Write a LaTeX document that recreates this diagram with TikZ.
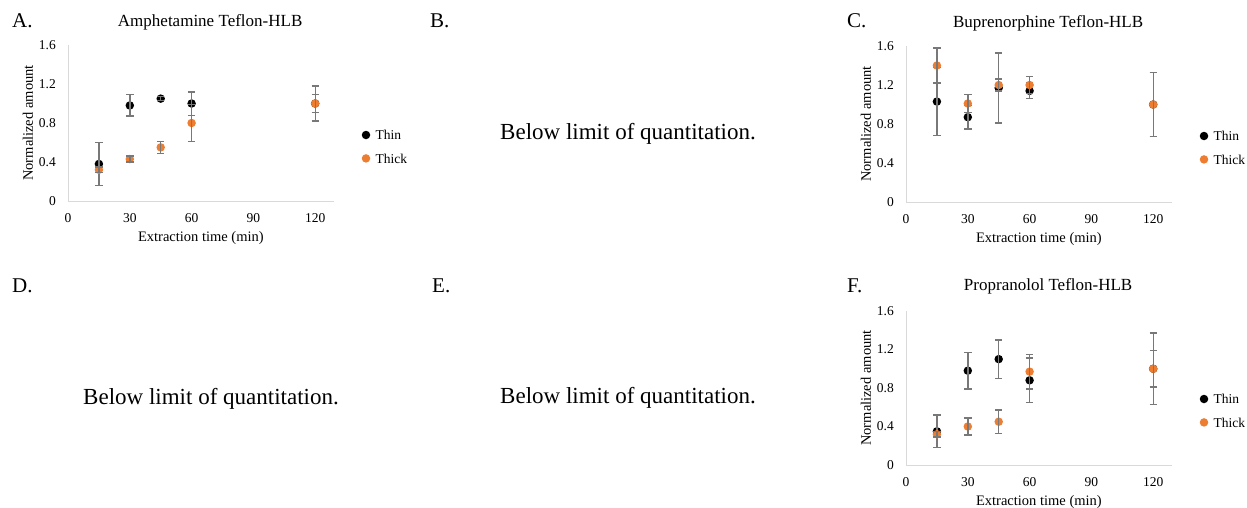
\documentclass[tikz,border=0pt]{standalone}
\usepackage{fontspec}
\setmainfont{Liberation Serif}
\usetikzlibrary{positioning}
\definecolor{thickorange}{RGB}{237,125,49}
\definecolor{axgray}{RGB}{217,217,217}
\definecolor{errgray}{RGB}{120,120,120}
\tikzset{
  panellbl/.style={anchor=base west, inner sep=0pt, font=\fontsize{21}{21}\selectfont},
  ttl/.style={inner sep=0pt, font=\fontsize{17}{17}\selectfont},
  bloq/.style={anchor=base, inner sep=0pt, font=\fontsize{23}{23}\selectfont},
  ticklbl/.style={inner sep=0pt, font=\fontsize{13.5}{13.5}\selectfont},
  axtitle/.style={inner sep=0pt, font=\fontsize{14.5}{14.5}\selectfont},
  axln/.style={draw=axgray, line width=1pt},
  errbar/.style={draw=errgray, line width=1.4pt},
  thinpt/.style={circle, fill=black, inner sep=0pt, minimum size=8.5pt},
  thickpt/.style={circle, fill=thickorange, inner sep=0pt, minimum size=8.5pt}
}
% axes, ticks, titles and legend of one chart
\newcommand{\chartframe}[2]{%
  \draw[axln] (0,1.6) coordinate (ytop#1) -- (0,0) coordinate (org#1) -- (129,0) coordinate (xend#1);
  \foreach \v/\n in {0/0,0.4/1,0.8/2,1.2/3,1.6/4}
    \node[ticklbl, anchor=east] (yt#1\n) at ([xshift=-12pt]0,\v) {\v};
  \foreach \t in {0,30,60,90,120}
    \node[ticklbl, anchor=base] (xt#1\t) at ([yshift=-21pt]\t,0) {\t};
  \node[axtitle, anchor=base] (xtitle#1) at ([yshift=-40pt]64.5,0) {Extraction time (min)};
  \node[axtitle, rotate=90] (ytitle#1) at ([xshift=-40pt]0,0.8) {Normalized amount};
  \node[ttl, anchor=base] (title#1) at ([yshift=175pt]69,0) {#2};
  \node[thinpt] (legthin#1) at ([xshift=298pt,yshift=66pt]0,0) {};
  \node[ticklbl, right=5pt of legthin#1] (legthintxt#1) {Thin};
  \node[thickpt, below=14.5pt of legthin#1] (legthick#1) {};
  \node[ticklbl, right=5pt of legthick#1] (legthicktxt#1) {Thick};
}
% one series: marker, then its error bar on top
\newcommand{\plotseries}[3]{%
  \foreach \t/\v/\e [count=\i] in {#3} {
    \node[#2] (#1\i) at (\t,\v) {};
    \draw[errbar] (\t,{\v-\e}) -- (\t,{\v+\e});
    \draw[errbar] ([xshift=-3.7pt]\t,{\v-\e}) -- ([xshift=3.7pt]\t,{\v-\e});
    \draw[errbar] ([xshift=-3.7pt]\t,{\v+\e}) -- ([xshift=3.7pt]\t,{\v+\e});
  }
}

\begin{document}
\begin{tikzpicture}[x=1pt, y=-1pt]
\useasboundingbox (0,0) rectangle (1247,507);

\node[panellbl] (lblA) at (12,27) {A.};
\node[panellbl] (lblB) at (430,27) {B.};
\node[panellbl] (lblC) at (847,27) {C.};
\node[panellbl] (lblD) at (12,292) {D.};
\node[panellbl] (lblE) at (432,292) {E.};
\node[panellbl] (lblF) at (847,292) {F.};

\node[bloq] (bloqB) at (628,139) {Below limit of quantitation.};
\node[bloq] (bloqD) at (211,404) {Below limit of quantitation.};
\node[bloq] (bloqE) at (628,403) {Below limit of quantitation.};

% A. Amphetamine
\begin{scope}[shift={(68pt,-201pt)}, x=2.06pt, y=97.5pt]
\chartframe{A}{Amphetamine Teflon-HLB}
\plotseries{thinA}{thinpt}{15/0.38/0.22, 30/0.98/0.11, 45/1.05/0.02, 60/1.00/0.12, 120/1.00/0.09}
\plotseries{thickA}{thickpt}{15/0.32/0.03, 30/0.43/0.03, 45/0.55/0.06, 60/0.80/0.19, 120/1.00/0.18}
\end{scope}

% C. Buprenorphine
\begin{scope}[shift={(906pt,-202pt)}, x=2.06pt, y=97.5pt]
\chartframe{C}{Buprenorphine Teflon-HLB}
\plotseries{thinC}{thinpt}{15/1.03/0.35, 30/0.87/0.12, 45/1.17/0.36, 60/1.14/0.08, 120/1.00/0.33}
\plotseries{thickC}{thickpt}{15/1.40/0.18, 30/1.01/0.09, 45/1.20/0.06, 60/1.20/0.09, 120/1.00/0.33}
\end{scope}

% F. Propranolol
\begin{scope}[shift={(906pt,-465pt)}, x=2.06pt, y=96.25pt]
\chartframe{F}{Propranolol Teflon-HLB}
\plotseries{thinF}{thinpt}{15/0.35/0.17, 30/0.98/0.19, 45/1.10/0.20, 60/0.88/0.23, 120/1.00/0.19}
\plotseries{thickF}{thickpt}{15/0.32/0.03, 30/0.40/0.09, 45/0.45/0.12, 60/0.97/0.18, 120/1.00/0.37}
\end{scope}
\end{tikzpicture}
\end{document}
